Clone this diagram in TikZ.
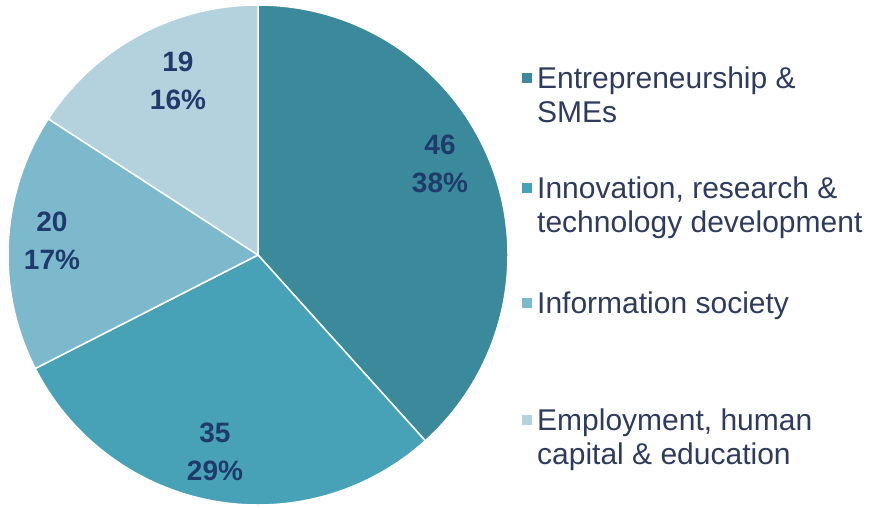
\documentclass[tikz,border=0pt]{standalone}
\usepackage{fontspec}
\setmainfont{Liberation Sans}
\definecolor{sliceA}{HTML}{3B8A9C}
\definecolor{sliceB}{HTML}{47A2B7}
\definecolor{sliceC}{HTML}{7DB9CD}
\definecolor{sliceD}{HTML}{B4D2DE}
\definecolor{labtext}{HTML}{1F3A6B}
\definecolor{legtext}{HTML}{2E3B5C}
\begin{document}
\begin{tikzpicture}[x=1pt,y=1pt,
  slice/.style={draw=white,line width=1.5pt},
  pielabel/.style={font=\bfseries\fontsize{28}{38}\selectfont,text=labtext,align=center,inner sep=0pt},
  legkey/.style={minimum size=10pt,inner sep=0pt},
  legtxt/.style={font=\fontsize{30}{34}\selectfont,text=legtext,align=left,anchor=north west,inner sep=0pt}]
\useasboundingbox (0,0) rectangle (877,507);

\begin{scope}[shift = {(258,252)}]
\filldraw[slice,fill=sliceA] (0,0) -- (90:250) arc (90:-48:250) -- cycle ;
\filldraw[slice,fill=sliceB] (0,0) -- (-48:250) arc (-48:-153:250) -- cycle ;
\filldraw[slice,fill=sliceC] (0,0) -- (-153:250) arc (-153:-213:250) -- cycle ;
\filldraw[slice,fill=sliceD] (0,0) -- (147:250) arc (147:90:250) -- cycle ;
\end{scope}

\node[pielabel] (labA) at (440,343) {46\\38\%};
\node[pielabel] (labB) at (215,55) {35\\29\%};
\node[pielabel] (labC) at (52,266) {20\\17\%};
\node[pielabel] (labD) at (178,426) {19\\16\%};

\node[legkey,fill=sliceA] (keyA) at (527,429) {};
\node[legkey,fill=sliceB] (keyB) at (527,319) {};
\node[legkey,fill=sliceC] (keyC) at (527,204) {};
\node[legkey,fill=sliceD] (keyD) at (527,87) {};

\node[legtxt] (txtA) at (537,440) {Entrepreneurship \&\\SMEs};
\node[legtxt] (txtB) at (537,330) {Innovation, research \&\\technology development};
\node[legtxt] (txtC) at (537,215) {Information society};
\node[legtxt] (txtD) at (537,98) {Employment, human\\capital \& education};

\end{tikzpicture}
\end{document}
